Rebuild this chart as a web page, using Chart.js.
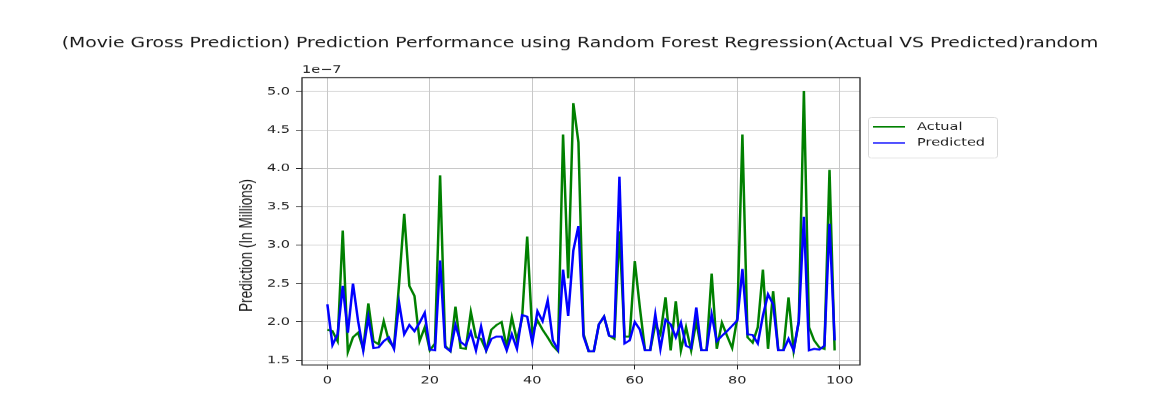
<!DOCTYPE html>
<html>
<head>
<meta charset="utf-8">
<script src="https://cdn.jsdelivr.net/npm/chart.js@4"></script>
<style>
  html, body { margin: 0; padding: 0; background: #fff; }
  #Chart_1 { display: block; width: 1152px; height: 394px; }
</style>
</head>
<body>
<canvas id="Chart_1" width="1152" height="525" style="width:1152px;height:394px"></canvas>
<script>
// values in units of 1e-7
var actual = [1.90, 1.88, 1.75, 3.19, 1.61, 1.80, 1.86, 1.65, 2.24, 1.75,
              1.71, 2.01, 1.75, 1.67, 2.50, 3.41, 2.47, 2.34, 1.75, 1.93,
              1.63, 1.72, 3.91, 1.69, 1.62, 2.20, 1.66, 1.65, 2.13, 1.80,
              1.78, 1.63, 1.90, 1.96, 2.00, 1.67, 2.06, 1.76, 2.05, 3.11,
              1.85, 2.02, 1.90, 1.80, 1.69, 1.62, 4.44, 2.57, 4.85, 4.34,
              1.84, 1.62, 1.62, 1.97, 2.07, 1.82, 1.78, 3.18, 1.81, 1.81,
              2.79, 2.18, 1.63, 1.63, 1.97, 1.84, 2.32, 1.63, 2.27, 1.63,
              1.93, 1.63, 2.01, 1.63, 1.63, 2.63, 1.65, 1.99, 1.82, 1.66,
              2.05, 4.44, 1.80, 1.73, 1.93, 2.68, 1.65, 2.40, 1.63, 1.63,
              2.32, 1.63, 2.00, 5.01, 1.93, 1.76, 1.67, 1.65, 3.98, 1.63];
var predicted = [2.23, 1.70, 1.84, 2.47, 1.86, 2.50, 2.01, 1.63, 2.06, 1.66,
                 1.67, 1.75, 1.80, 1.65, 2.25, 1.84, 1.96, 1.88, 1.99, 2.12,
                 1.64, 1.63, 2.80, 1.67, 1.62, 1.96, 1.74, 1.69, 1.87, 1.63,
                 1.94, 1.63, 1.78, 1.81, 1.81, 1.63, 1.84, 1.65, 2.09, 2.07,
                 1.73, 2.14, 2.01, 2.28, 1.76, 1.64, 2.68, 2.08, 2.93, 3.25,
                 1.81, 1.62, 1.62, 1.97, 2.07, 1.82, 1.81, 3.89, 1.72, 1.76,
                 2.00, 1.90, 1.63, 1.63, 2.10, 1.65, 2.03, 1.97, 1.80, 1.99,
                 1.69, 1.66, 2.19, 1.63, 1.63, 2.10, 1.75, 1.82, 1.88, 1.95,
                 2.02, 2.69, 1.84, 1.83, 1.72, 2.08, 2.36, 2.23, 1.63, 1.63,
                 1.78, 1.63, 2.01, 3.37, 1.63, 1.65, 1.64, 1.69, 3.28, 1.76];
var xTicks = [0, 20, 40, 60, 80, 100];
var yTicks = [1.5, 2.0, 2.5, 3.0, 3.5, 4.0, 4.5, 5.0];
var seriesNames = ['Actual', 'Predicted'];
var titleText = '(Movie Gross Prediction) Prediction Performance using Random Forest Regression(Actual VS Predicted)random';
var yLabel = 'Prediction (In Millions)';
var offsetText = '1e\u22127';

function toPoints(arr) {
    return arr.map(function (v, i) { return { x: i, y: v }; });
}

var tickFont = { family: 'DejaVu Sans', size: 14.5 };

// spines, offset text, y label and legend, drawn the matplotlib way
var extras = {
    id: 'extras',
    afterDatasetsDraw: function (chart) {
        var a = chart.chartArea, c = chart.ctx;
        c.save();
        c.strokeStyle = '#222';
        c.lineWidth = 1.3;
        c.strokeRect(a.left, a.top, a.right - a.left, a.bottom - a.top);
        c.restore();
    },
    afterDraw: function (chart) {
        var a = chart.chartArea, c = chart.ctx;
        c.save();
        c.fillStyle = '#222';
        c.font = '14.5px "DejaVu Sans"';
        c.textAlign = 'left';
        c.textBaseline = 'middle';
        c.fillText(offsetText, a.left, 93);

        c.translate(247, 327);
        c.rotate(-Math.PI / 2);
        c.textAlign = 'center';
        c.fillStyle = '#1a1a1a';
        c.font = '18px "Liberation Sans", sans-serif';
        c.fillText(yLabel, 0, 0);
        c.restore();

        // legend box
        c.save();
        c.fillStyle = 'rgba(255,255,255,0.8)';
        c.strokeStyle = '#d8d8d8';
        c.lineWidth = 1;
        c.beginPath();
        c.roundRect(868.5, 156.5, 129, 54, 3);
        c.fill();
        c.stroke();
        var ys = [169, 190.5];
        chart.data.datasets.forEach(function (ds, i) {
            c.strokeStyle = ds.borderColor;
            c.lineWidth = 2;
            c.beginPath();
            c.moveTo(873, ys[i]);
            c.lineTo(905, ys[i]);
            c.stroke();
            c.fillStyle = '#222';
            c.font = '14.5px "DejaVu Sans"';
            c.textAlign = 'left';
            c.textBaseline = 'middle';
            c.fillText(ds.label, 917, ys[i]);
        });
        c.restore();
    }
};

var ctx = document.getElementById('Chart_1');
var chart = new Chart(ctx, {
    type: 'line',
    data: {
        datasets: [{
            label: seriesNames[0],
            data: toPoints(actual),
            borderColor: 'green',
            backgroundColor: 'green',
            borderWidth: 2.5,
            pointRadius: 0,
            tension: 0,
            order: 1
        }, {
            label: seriesNames[1],
            data: toPoints(predicted),
            borderColor: '#0000ff',
            backgroundColor: '#0000ff',
            borderWidth: 2.5,
            pointRadius: 0,
            tension: 0,
            order: 0
        }]
    },
    options: {
        responsive: false,
        animation: false,
        devicePixelRatio: 1,
        layout: { padding: { left: 8, right: 0, top: 0, bottom: 0 } },
        plugins: {
            legend: { display: false },
            tooltip: { enabled: false },
            title: {
                display: true,
                text: titleText,
                color: '#1a1a1a',
                font: { family: 'DejaVu Sans', size: 18.8, weight: 'normal', lineHeight: 1.2 },
                padding: { top: 47, bottom: 34 }
            }
        },
        scales: {
            x: {
                type: 'linear',
                min: -4.95,
                max: 103.95,
                afterBuildTicks: function (s) { s.ticks = xTicks.map(function (v) { return { value: v }; }); },
                afterFit: function (s) { s.height = 38.7; },
                ticks: { color: '#222', font: tickFont, padding: 6, maxRotation: 0,
                         callback: function (v) { return String(v); } },
                grid: { color: '#c8c8c8', lineWidth: 1, tickLength: 6, tickColor: '#222' },
                border: { display: false }
            },
            y: {
                min: 1.44,
                max: 5.18,
                afterBuildTicks: function (s) { s.ticks = yTicks.map(function (v) { return { value: v }; }); },
                afterFit: function (s) { s.width = 294; },
                ticks: { color: '#222', font: tickFont, padding: 6,
                         callback: function (v) { return v.toFixed(1); } },
                grid: { color: '#c8c8c8', lineWidth: 1, tickLength: 6, tickColor: '#222' },
                border: { display: false }
            },
            yRight: {
                position: 'right',
                display: true,
                afterFit: function (s) { s.width = 292; },
                ticks: { display: false },
                grid: { display: false },
                border: { display: false }
            }
        }
    },
    plugins: [extras]
});
</script>
</body>
</html>
